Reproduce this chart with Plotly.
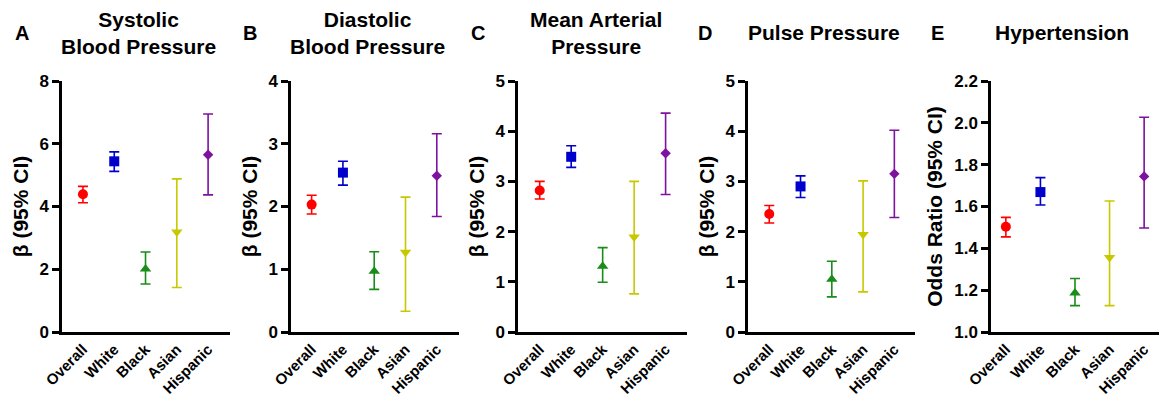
import plotly.graph_objects as go

groups = ["Overall", "White", "Black", "Asian", "Hispanic"]
colors = ["#ff0000", "#0000cc", "#1a8c1a", "#c8c800", "#7d12a0"]
symbols = ["circle", "square", "triangle-up", "triangle-down", "diamond"]
msizes = [10, 10, 10, 10, 8]

panel_letters = ["A", "B", "C", "D", "E"]
panel_titles = ["Systolic<br>Blood Pressure", "Diastolic<br>Blood Pressure",
                "Mean Arterial<br>Pressure", "Pulse Pressure", "Hypertension"]
y_titles = ["β (95% CI)", "β (95% CI)", "β (95% CI)", "β (95% CI)", "Odds Ratio (95% CI)"]

# estimates, lower and upper CI
sbp_est = [4.39, 5.44, 2.01, 3.19, 5.65]
sbp_lo = [4.12, 5.12, 1.53, 1.42, 4.37]
sbp_hi = [4.64, 5.74, 2.55, 4.88, 6.95]

dbp_est = [2.03, 2.54, 0.97, 1.27, 2.49]
dbp_lo = [1.88, 2.34, 0.68, 0.33, 1.84]
dbp_hi = [2.18, 2.72, 1.28, 2.15, 3.16]

map_est = [2.82, 3.49, 1.31, 1.89, 3.56]
map_lo = [2.65, 3.28, 0.99, 0.76, 2.74]
map_hi = [3.00, 3.71, 1.68, 3.00, 4.36]

pp_est = [2.35, 2.90, 1.05, 1.94, 3.15]
pp_lo = [2.17, 2.68, 0.70, 0.80, 2.28]
pp_hi = [2.52, 3.11, 1.41, 3.01, 4.02]

htn_est = [1.503, 1.669, 1.187, 1.356, 1.744]
htn_lo = [1.455, 1.607, 1.126, 1.126, 1.497]
htn_hi = [1.548, 1.738, 1.256, 1.626, 2.027]

panels = [
    (sbp_est, sbp_lo, sbp_hi),
    (dbp_est, dbp_lo, dbp_hi),
    (map_est, map_lo, map_hi),
    (pp_est, pp_lo, pp_hi),
    (htn_est, htn_lo, htn_hi),
]
y_ranges = [[0, 8], [0, 4], [0, 5], [0, 5], [1.0, 2.2]]
y_dticks = [2, 1, 1, 1, 0.2]
y_formats = ["d", "d", "d", "d", ".1f"]

W, H = 1160, 401
x_px = [(62, 230), (291, 459), (518, 687), (748, 915), (991, 1159)]
x_ranges = [[-0.67, 4.70], [-0.66, 4.71], [-0.69, 4.68], [-0.68, 4.66], [-0.43, 4.43]]
y_px = (81, 332)
title_x = [138, 367, 596, 824, 1062]
letter_x = [22, 250, 478, 705, 937]

FONT = "Arial, Liberation Sans, sans-serif"

fig = go.Figure()
for p, (est, lo, hi) in enumerate(panels):
    ax = "" if p == 0 else str(p + 1)
    for i, g in enumerate(groups):
        fig.add_trace(go.Scatter(
            x=[g], y=[est[i]],
            mode="markers",
            marker=dict(symbol=symbols[i], size=msizes[i], color=colors[i]),
            error_y=dict(type="data", symmetric=False,
                         array=[hi[i] - est[i]], arrayminus=[est[i] - lo[i]],
                         color=colors[i], thickness=1.6, width=5),
            xaxis="x" + ax, yaxis="y" + ax, showlegend=False,
        ))
    xd = [x_px[p][0] / W, x_px[p][1] / W]
    yd = [1 - y_px[1] / H, 1 - y_px[0] / H]
    fig.layout["xaxis" + ax] = dict(
        domain=xd, anchor="y" + ax, type="category",
        categoryorder="array", categoryarray=groups, automargin=False,
        range=x_ranges[p], showline=True, linecolor="black", linewidth=2.5,
        ticks="", tickangle=-45, showgrid=False, zeroline=False,
        tickfont=dict(family=FONT, size=15, color="black", weight="bold"),
    )
    fig.layout["yaxis" + ax] = dict(
        domain=yd, anchor="x" + ax, range=y_ranges[p], dtick=y_dticks[p],
        tick0=y_ranges[p][0], tickformat=y_formats[p], automargin=False,
        showline=True, linecolor="black", linewidth=2.5,
        ticks="outside", ticklen=7, tickwidth=2.5, tickcolor="black",
        showgrid=False, zeroline=False,
        tickfont=dict(family=FONT, size=17, color="black", weight="bold"),
        title=dict(text=y_titles[p], standoff=6,
                   font=dict(family=FONT, size=21, color="black", weight="bold")),
    )
    fig.add_annotation(x=title_x[p] / W, y=1 - 33 / H, xref="paper", yref="paper",
                       text=panel_titles[p], showarrow=False, xanchor="center",
                       yanchor="middle",
                       font=dict(family=FONT, size=21, color="black", weight="bold"))
    fig.add_annotation(x=letter_x[p] / W, y=1 - 33 / H, xref="paper", yref="paper",
                       text=panel_letters[p], showarrow=False, xanchor="center",
                       yanchor="middle",
                       font=dict(family=FONT, size=20, color="black", weight="bold"))

fig.update_layout(width=W, height=H, margin=dict(l=0, r=0, t=0, b=0, autoexpand=False),
                  paper_bgcolor="white", plot_bgcolor="white",
                  font=dict(family=FONT, color="black"))
fig.write_html("out.html", config={"displayModeBar": False},
               post_script="document.body.style.margin='0';")
